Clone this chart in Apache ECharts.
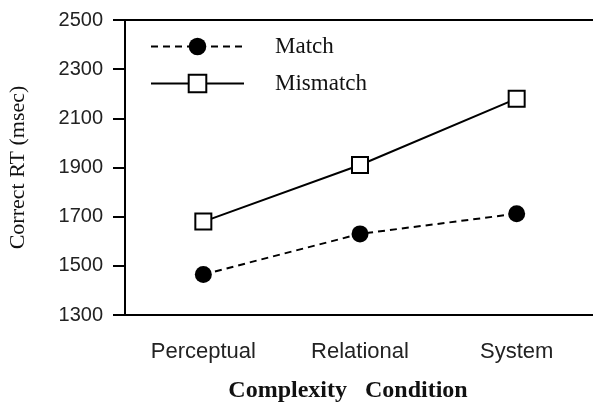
<!DOCTYPE html>
<html>
<head>
<meta charset="utf-8">
<script src="https://cdn.jsdelivr.net/npm/echarts@6/dist/echarts.min.js"></script>
<style>
  html, body { margin: 0; padding: 0; background: #fff; }
  #chart { width: 593px; height: 415px; }
</style>
</head>
<body>
<div id="chart"></div>
<script>
var categories = ['Perceptual', 'Relational', 'System'];
var matchValues = [1465, 1630, 1712];
var mismatchValues = [1680, 1910, 2180];
var yTicks = [1300, 1500, 1700, 1900, 2100, 2300, 2500];

var chart = echarts.init(document.getElementById('chart'));
chart.setOption({
    animation: false,
    backgroundColor: '#ffffff',
    grid: {left: 125, right: -2, top: 20, bottom: 100, show: true, borderColor: '#000', borderWidth: 2,
        outerBoundsMode: 'none'},
    legend: {
        orient: 'vertical',
        left: 145,
        top: 30,
        itemWidth: 93,
        itemHeight: 22,
        itemGap: 14,
        textStyle: {fontFamily: 'Liberation Serif', fontSize: 23, color: '#111', padding: [10, 0, 0, 26]},
        data: ['Match', 'Mismatch']
    },
    xAxis: {
        type: 'category',
        data: categories,
        name: 'Complexity   Condition',
        nameLocation: 'middle',
        nameGap: 64,
        nameTextStyle: {fontFamily: 'Liberation Serif', fontWeight: 'bold', fontSize: 24, color: '#111',
            padding: [0, 24, 0, 0]},
        axisLine: {lineStyle: {color: '#000', width: 2}},
        axisTick: {alignWithLabel: true, length: 9, lineStyle: {color: '#000', width: 2}},
        axisLabel: {fontFamily: 'Liberation Sans', fontSize: 22, color: '#222', margin: 26}
    },
    yAxis: {
        type: 'value',
        min: yTicks[0],
        max: yTicks[yTicks.length - 1],
        interval: 200,
        name: 'Correct RT (msec)',
        nameLocation: 'middle',
        nameGap: 96,
        nameRotate: 90,
        nameTextStyle: {fontFamily: 'Liberation Serif', fontSize: 22, color: '#111'},
        axisLine: {show: true, lineStyle: {color: '#000', width: 2}},
        axisTick: {show: true, length: 12, lineStyle: {color: '#000', width: 2}},
        axisLabel: {fontFamily: 'Liberation Sans', fontSize: 20, color: '#222', margin: 22,
            formatter: function (v) { return String(v); }},
        splitLine: {show: false}
    },
    series: [
        {
            name: 'Match',
            type: 'line',
            data: matchValues,
            symbol: 'circle',
            symbolSize: 17,
            itemStyle: {color: '#000'},
            lineStyle: {color: '#000', width: 2, type: [7, 5]}
        },
        {
            name: 'Mismatch',
            type: 'line',
            data: mismatchValues,
            symbol: 'rect',
            symbolSize: 16,
            itemStyle: {color: '#fff', borderColor: '#000', borderWidth: 2},
            lineStyle: {color: '#000', width: 2}
        }
    ]
});
</script>
</body>
</html>
